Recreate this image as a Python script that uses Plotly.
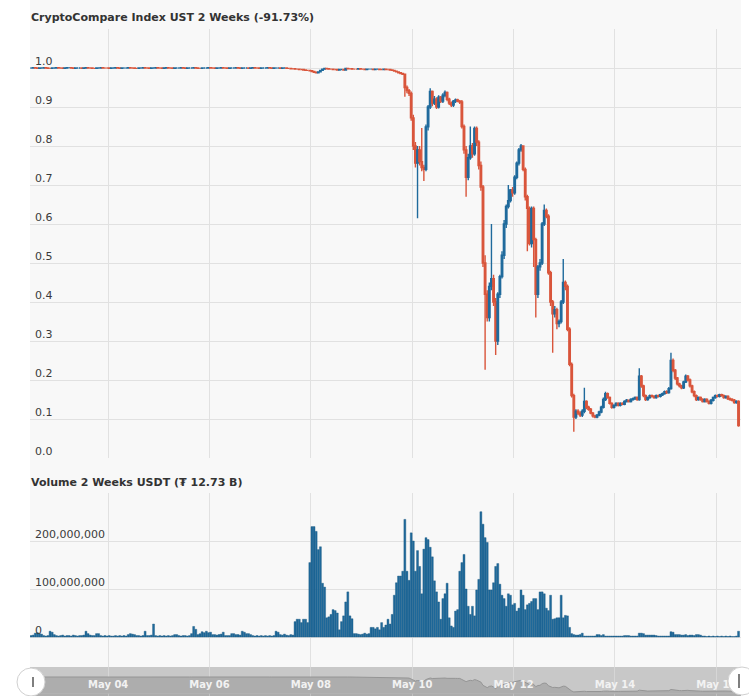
import pandas as pd
import plotly.graph_objects as go

# ---------------- data (hourly candles, 2 weeks) ----------------
start_time = "2022-05-02 11:30"

closes = [
    1.000,1.001,1.000,0.999,1.000,1.000,1.001,1.000,0.999,0.999,1.000,1.000,
    1.001,1.000,1.000,0.999,1.000,1.001,1.001,1.000,0.999,1.000,1.000,1.000,
    0.999,1.000,1.001,1.000,1.000,0.999,0.999,1.000,1.000,1.001,1.000,1.000,
    1.000,0.999,1.000,1.000,1.001,1.000,0.999,1.000,1.000,1.000,1.001,1.000,
    1.000,0.999,0.999,1.000,1.000,1.001,1.000,1.000,0.999,1.000,1.000,1.001,
    1.000,1.000,0.999,1.000,1.001,1.000,1.000,0.999,1.000,1.000,1.000,1.001,
    1.000,0.999,1.000,1.000,1.000,1.001,1.000,0.999,0.999,1.000,1.000,1.000,
    1.001,1.000,1.000,0.999,1.000,1.000,1.001,1.000,1.000,0.999,1.000,1.000,
    1.000,1.001,1.000,0.999,1.000,1.000,1.000,0.999,1.000,1.001,1.000,1.000,
    0.999,1.000,1.000,1.000,1.001,1.000,0.999,1.000,1.000,1.000,0.999,1.000,
    1.000,0.999,0.999,0.998,0.998,0.997,0.997,0.996,0.996,0.995,0.994,0.994,
    0.993,0.991,0.989,0.988,0.990,0.994,0.997,0.999,0.998,0.997,0.997,0.996,
    0.996,0.995,0.996,0.996,0.995,0.999,0.998,0.998,0.997,0.997,0.997,0.998,
    0.997,0.997,0.996,0.997,0.997,0.997,0.996,0.997,0.997,0.996,0.996,0.997,
    0.996,0.996,0.995,0.994,0.992,0.990,0.988,0.986,0.984,0.950,0.942,0.935,
    0.872,0.800,0.756,0.790,0.760,0.745,0.740,0.849,0.900,0.940,0.910,0.920,
    0.900,0.925,0.915,0.930,0.937,0.920,0.910,0.905,0.915,0.918,0.915,0.913,
    0.850,0.790,0.720,0.770,0.800,0.780,0.845,0.810,0.750,0.695,0.500,0.420,
    0.360,0.440,0.460,0.400,0.300,0.420,0.465,0.520,0.600,0.645,0.660,0.687,
    0.680,0.720,0.756,0.790,0.800,0.740,0.670,0.640,0.550,0.640,0.560,0.420,
    0.490,0.500,0.600,0.635,0.620,0.475,0.400,0.370,0.380,0.345,0.350,0.400,
    0.450,0.440,0.330,0.240,0.160,0.105,0.120,0.115,0.110,0.120,0.145,0.130,
    0.125,0.115,0.108,0.105,0.110,0.118,0.130,0.150,0.165,0.155,0.140,0.130,
    0.135,0.140,0.135,0.140,0.138,0.145,0.148,0.145,0.150,0.152,0.155,0.150,
    0.210,0.185,0.160,0.150,0.155,0.160,0.158,0.155,0.160,0.158,0.162,0.165,
    0.170,0.168,0.178,0.250,0.225,0.205,0.190,0.185,0.180,0.195,0.210,0.200,
    0.185,0.170,0.160,0.150,0.155,0.150,0.145,0.150,0.145,0.140,0.148,0.155,
    0.160,0.158,0.162,0.160,0.155,0.158,0.152,0.150,0.148,0.142,0.145,0.083,
]

opens = [
    1.000,1.000,1.001,1.000,0.999,1.000,1.000,1.001,1.000,0.999,0.999,1.000,
    1.000,1.001,1.000,1.000,0.999,1.000,1.001,1.001,1.000,0.999,1.000,1.000,
    1.000,0.999,1.000,1.001,1.000,1.000,0.999,0.999,1.000,1.000,1.001,1.000,
    1.000,1.000,0.999,1.000,1.000,1.001,1.000,0.999,1.000,1.000,1.000,1.001,
    1.000,1.000,0.999,0.999,1.000,1.000,1.001,1.000,1.000,0.999,1.000,1.000,
    1.001,1.000,1.000,0.999,1.000,1.001,1.000,1.000,0.999,1.000,1.000,1.000,
    1.001,1.000,0.999,1.000,1.000,1.000,1.001,1.000,0.999,0.999,1.000,1.000,
    1.000,1.001,1.000,1.000,0.999,1.000,1.000,1.001,1.000,1.000,0.999,1.000,
    1.000,1.000,1.001,1.000,0.999,1.000,1.000,1.000,0.999,1.000,1.001,1.000,
    1.000,0.999,1.000,1.000,1.000,1.001,1.000,0.999,1.000,1.000,1.000,0.999,
    1.000,1.000,0.999,0.999,0.998,0.998,0.997,0.997,0.996,0.996,0.995,0.994,
    0.994,0.993,0.991,0.989,0.988,0.990,0.994,0.997,0.999,0.998,0.997,0.997,
    0.996,0.996,0.995,0.996,0.996,0.995,0.999,0.998,0.998,0.997,0.997,0.997,
    0.998,0.997,0.997,0.996,0.997,0.997,0.997,0.996,0.997,0.997,0.996,0.996,
    0.997,0.996,0.996,0.995,0.994,0.992,0.990,0.988,0.986,0.984,0.950,0.942,
    0.935,0.872,0.800,0.756,0.790,0.760,0.745,0.740,0.849,0.900,0.940,0.910,
    0.920,0.900,0.925,0.915,0.930,0.937,0.920,0.910,0.905,0.915,0.918,0.915,
    0.913,0.850,0.790,0.720,0.770,0.800,0.780,0.845,0.810,0.750,0.695,0.500,
    0.420,0.360,0.440,0.460,0.400,0.300,0.420,0.465,0.520,0.600,0.645,0.660,
    0.687,0.680,0.720,0.756,0.790,0.800,0.740,0.670,0.640,0.550,0.640,0.560,
    0.420,0.490,0.500,0.600,0.635,0.620,0.475,0.400,0.370,0.380,0.345,0.350,
    0.400,0.450,0.440,0.330,0.240,0.160,0.105,0.120,0.115,0.110,0.120,0.145,
    0.130,0.125,0.115,0.108,0.105,0.110,0.118,0.130,0.150,0.165,0.155,0.140,
    0.130,0.135,0.140,0.135,0.140,0.138,0.145,0.148,0.145,0.150,0.152,0.155,
    0.150,0.210,0.185,0.160,0.150,0.155,0.160,0.158,0.155,0.160,0.158,0.162,
    0.165,0.170,0.168,0.178,0.250,0.225,0.205,0.190,0.185,0.180,0.195,0.210,
    0.200,0.185,0.170,0.160,0.150,0.155,0.150,0.145,0.150,0.145,0.140,0.148,
    0.155,0.160,0.158,0.162,0.160,0.155,0.158,0.152,0.150,0.148,0.142,0.145,
]

highs = [
    1.001,1.002,1.002,1.001,1.001,1.001,1.002,1.002,1.001,1.000,1.001,1.001,
    1.002,1.002,1.001,1.001,1.001,1.002,1.002,1.002,1.001,1.001,1.001,1.001,
    1.001,1.001,1.002,1.002,1.001,1.001,1.000,1.001,1.001,1.002,1.002,1.001,
    1.001,1.001,1.001,1.001,1.002,1.002,1.001,1.001,1.001,1.001,1.002,1.002,
    1.001,1.001,1.000,1.001,1.001,1.002,1.002,1.001,1.001,1.001,1.001,1.002,
    1.002,1.001,1.001,1.001,1.002,1.002,1.001,1.001,1.001,1.001,1.001,1.002,
    1.002,1.001,1.001,1.001,1.001,1.002,1.002,1.001,1.000,1.001,1.001,1.001,
    1.002,1.002,1.001,1.001,1.001,1.001,1.002,1.002,1.001,1.001,1.001,1.001,
    1.001,1.002,1.002,1.001,1.001,1.001,1.001,1.001,1.001,1.002,1.002,1.001,
    1.001,1.001,1.001,1.001,1.002,1.002,1.001,1.001,1.001,1.001,1.001,1.001,
    1.001,1.001,1.000,1.000,0.999,0.999,0.998,0.998,0.997,0.997,0.996,0.995,
    0.995,0.994,0.992,0.990,0.991,0.995,0.998,1.000,1.000,0.999,0.998,0.998,
    0.997,0.997,0.997,0.997,0.997,1.000,1.000,0.999,0.999,0.998,0.998,0.999,
    0.999,0.998,0.998,0.998,0.998,0.998,0.998,0.998,0.998,0.998,0.997,0.998,
    0.998,0.997,0.997,0.996,0.995,0.993,0.991,0.989,0.987,0.985,0.955,0.946,
    0.940,0.880,0.810,0.800,0.800,0.846,0.752,0.855,0.905,0.948,0.942,0.928,
    0.925,0.930,0.928,0.935,0.942,0.940,0.924,0.914,0.918,0.922,0.921,0.918,
    0.918,0.855,0.800,0.780,0.850,0.808,0.850,0.850,0.815,0.760,0.700,0.520,
    0.430,0.450,0.600,0.470,0.410,0.425,0.470,0.530,0.610,0.650,0.700,0.690,
    0.695,0.725,0.760,0.795,0.805,0.802,0.745,0.675,0.645,0.645,0.645,0.565,
    0.495,0.510,0.605,0.650,0.640,0.625,0.480,0.405,0.390,0.385,0.355,0.405,
    0.510,0.455,0.445,0.335,0.245,0.165,0.125,0.125,0.120,0.125,0.180,0.148,
    0.134,0.128,0.118,0.111,0.113,0.121,0.134,0.155,0.170,0.168,0.158,0.143,
    0.138,0.143,0.143,0.143,0.143,0.148,0.151,0.150,0.153,0.155,0.158,0.158,
    0.230,0.213,0.188,0.163,0.158,0.163,0.163,0.161,0.163,0.163,0.165,0.168,
    0.173,0.174,0.182,0.270,0.255,0.228,0.208,0.193,0.188,0.198,0.214,0.213,
    0.204,0.188,0.173,0.163,0.158,0.158,0.153,0.153,0.153,0.148,0.151,0.158,
    0.163,0.163,0.165,0.165,0.163,0.161,0.161,0.155,0.153,0.151,0.148,0.148,
]

lows = [
    0.999,0.999,0.999,0.998,0.998,0.999,0.999,0.999,0.998,0.998,0.998,0.999,
    0.999,0.999,0.999,0.998,0.998,0.999,1.000,0.999,0.998,0.998,0.999,0.999,
    0.998,0.998,0.999,0.999,0.999,0.998,0.998,0.998,0.999,0.999,0.999,0.999,
    0.999,0.998,0.998,0.999,0.999,0.999,0.998,0.998,0.999,0.999,0.999,0.999,
    0.999,0.998,0.998,0.998,0.999,0.999,0.999,0.999,0.998,0.998,0.999,0.999,
    0.999,0.999,0.998,0.998,0.999,0.999,0.999,0.998,0.998,0.999,0.999,0.999,
    0.999,0.998,0.998,0.999,0.999,0.999,0.999,0.998,0.998,0.998,0.999,0.999,
    0.999,0.999,0.999,0.998,0.998,0.999,0.999,0.999,0.999,0.998,0.998,0.999,
    0.999,0.999,0.999,0.998,0.998,0.999,0.999,0.998,0.998,0.999,0.999,0.999,
    0.998,0.998,0.999,0.999,0.999,0.999,0.998,0.998,0.999,0.999,0.998,0.998,
    0.999,0.998,0.998,0.997,0.997,0.996,0.996,0.995,0.995,0.994,0.993,0.993,
    0.992,0.990,0.988,0.986,0.987,0.989,0.993,0.996,0.997,0.996,0.996,0.995,
    0.995,0.994,0.994,0.995,0.994,0.994,0.997,0.997,0.996,0.996,0.996,0.996,
    0.996,0.996,0.995,0.995,0.996,0.996,0.995,0.995,0.996,0.995,0.995,0.995,
    0.995,0.995,0.994,0.993,0.991,0.989,0.987,0.985,0.983,0.926,0.935,0.928,
    0.865,0.790,0.745,0.615,0.750,0.735,0.710,0.735,0.840,0.895,0.902,0.905,
    0.895,0.896,0.910,0.910,0.925,0.915,0.905,0.900,0.900,0.910,0.912,0.908,
    0.845,0.780,0.670,0.712,0.765,0.770,0.775,0.800,0.740,0.685,0.490,0.226,
    0.350,0.350,0.430,0.390,0.264,0.290,0.410,0.460,0.510,0.590,0.640,0.655,
    0.670,0.675,0.715,0.750,0.785,0.735,0.660,0.530,0.545,0.540,0.490,0.360,
    0.410,0.480,0.495,0.595,0.615,0.470,0.390,0.270,0.360,0.330,0.335,0.345,
    0.395,0.430,0.325,0.235,0.155,0.067,0.100,0.110,0.105,0.105,0.115,0.125,
    0.121,0.112,0.104,0.102,0.102,0.107,0.115,0.127,0.146,0.152,0.137,0.126,
    0.127,0.132,0.132,0.132,0.135,0.135,0.142,0.142,0.142,0.147,0.149,0.147,
    0.147,0.180,0.156,0.146,0.147,0.152,0.155,0.152,0.152,0.155,0.155,0.159,
    0.162,0.164,0.165,0.175,0.220,0.200,0.186,0.181,0.176,0.177,0.192,0.196,
    0.181,0.166,0.156,0.146,0.147,0.147,0.142,0.142,0.142,0.137,0.137,0.145,
    0.152,0.155,0.155,0.157,0.152,0.152,0.149,0.147,0.145,0.139,0.139,0.080,
]

# hourly volume in millions of USDT
volumes_musdt = [
    3,4,8,9,7,6,3,2,3,12,10,5,
    3,2,3,4,2,3,3,2,4,3,2,3,
    3,4,12,7,4,3,3,7,7,3,2,3,
    2,3,2,2,3,2,3,2,3,2,5,7,
    6,5,3,3,2,3,12,3,3,4,27,3,
    2,3,2,3,2,3,2,3,5,5,3,2,
    3,3,2,3,7,22,16,5,7,11,9,12,
    9,10,5,5,4,5,6,10,3,3,3,7,
    7,5,5,4,12,10,7,7,5,3,2,3,
    2,3,2,3,2,3,2,3,12,10,5,4,
    6,4,3,5,4,32,37,37,30,37,37,30,
    155,230,230,220,182,188,112,104,40,42,47,57,
    55,50,15,32,44,73,94,44,38,7,7,6,
    5,6,8,6,7,20,20,17,20,15,30,20,
    25,37,27,47,87,113,127,127,137,245,137,118,
    217,200,137,180,147,90,183,207,203,187,167,117,
    94,73,37,80,90,112,40,23,20,54,57,137,
    155,172,100,64,47,64,44,98,120,261,235,207,
    197,98,98,113,147,153,110,87,80,64,90,87,
    67,70,54,60,98,87,57,67,70,74,80,80,
    57,94,94,90,60,55,87,37,38,40,40,87,
    40,45,44,20,7,5,4,4,5,8,2,2,
    2,2,2,2,5,5,3,5,2,2,2,2,
    2,2,2,2,2,3,3,3,2,2,2,2,
    8,8,7,4,4,4,4,4,3,2,2,2,
    2,2,2,11,10,5,5,5,4,4,5,3,
    4,4,3,5,5,4,2,2,1,2,1,2,
    1,2,1,2,1,2,1,2,1,1,2,12,
]

price_ticks = [0.0, 0.1, 0.2, 0.3, 0.4, 0.5, 0.6, 0.7, 0.8, 0.9, 1.0, 1.1]
price_labels = ["0.0", "0.1", "0.2", "0.3", "0.4", "0.5", "0.6", "0.7", "0.8", "0.9", "1.0", ""]
vol_ticks = [0, 100_000_000, 200_000_000, 300_000_000]
vol_labels = ["0", "100,000,000", "200,000,000", ""]
date_ticks = ["2022-05-04", "2022-05-06", "2022-05-08", "2022-05-10",
              "2022-05-12", "2022-05-14", "2022-05-16"]

title_price = "CryptoCompare Index UST 2 Weeks (-91.73%)"
title_volume = "Volume 2 Weeks USDT (₮ 12.73 B)"

# ---------------- derived ----------------
n = len(closes)
assert len(opens) == n and len(highs) == n and len(lows) == n and len(volumes_musdt) == n
times = pd.date_range(start_time, periods=n, freq="h")
volumes = [v * 1_000_000 for v in volumes_musdt]

# ---------------- layout helpers ----------------
W, H = 749, 696
def px(x):
    return x / W
def py(y):
    return 1 - y / H

FONT = "DejaVu Sans"
UP = "#1f6a9c"
DOWN = "#d9553b"
GRID = "#e1e1e1"
X_LEFT, X_RIGHT = 30, 741
x_range = ["2022-05-02 11:00", "2022-05-16 11:40"]

fig = go.Figure()

fig.add_trace(go.Candlestick(
    x=times, open=opens, high=highs, low=lows, close=closes,
    increasing=dict(line=dict(color=UP, width=1.4), fillcolor=UP),
    decreasing=dict(line=dict(color=DOWN, width=1.4), fillcolor=DOWN),
    whiskerwidth=0, xaxis="x", yaxis="y", name="UST",
))

fig.add_trace(go.Bar(
    x=times, y=volumes, marker=dict(color=UP, line=dict(color="#17557f", width=0.4)),
    xaxis="x2", yaxis="y2", name="Volume",
))

fig.add_trace(go.Scatter(
    x=times, y=closes, mode="lines", line=dict(color="#959595", width=1),
    fill="tozeroy", fillcolor="#adadad", xaxis="x3", yaxis="y3", hoverinfo="skip",
))

common_x = dict(range=x_range, domain=[px(X_LEFT), px(X_RIGHT)], type="date",
                tickmode="array", tickvals=date_ticks, showgrid=True, gridcolor=GRID,
                gridwidth=1, zeroline=False, showline=False, ticks="")

fig.update_layout(
    width=W, height=H,
    margin=dict(l=0, r=0, t=0, b=0),
    paper_bgcolor="white", plot_bgcolor="rgba(0,0,0,0)",
    showlegend=False, boxgap=0.0, bargap=0.08,
    font=dict(family=FONT, size=11, color="#333333"),
    xaxis=dict(common_x, anchor="y", showticklabels=False, rangeslider=dict(visible=False)),
    xaxis2=dict(common_x, anchor="y2", showticklabels=False, matches="x"),
    xaxis3=dict(common_x, anchor="y3", showticklabels=True, matches="x",
                tickformat="%b %d", ticklabelposition="inside", ticklabelstandoff=3,
                gridcolor="rgba(255,255,255,0.25)",
                tickfont=dict(family=FONT, size=10, color="#f2f2f2", weight="bold")),
    yaxis=dict(domain=[py(458), py(29)], range=[0, 1.1], anchor="x",
               tickmode="array", tickvals=price_ticks, ticktext=price_labels,
               ticklabelposition="inside", ticklabelshift=-7, ticklabelstandoff=2,
               showgrid=True, gridcolor=GRID, zeroline=False, showline=False, ticks="",
               tickfont=dict(family=FONT, size=11, color="#3a3a3a")),
    yaxis2=dict(domain=[py(667), py(493)], range=[-62.5e6, 300e6], anchor="x2",
                tickmode="array", tickvals=vol_ticks, ticktext=vol_labels,
                ticklabelposition="inside", ticklabelshift=-7, ticklabelstandoff=2,
                showgrid=True, gridcolor=GRID, zeroline=False, showline=False, ticks="",
                tickfont=dict(family=FONT, size=11, color="#3a3a3a")),
    yaxis3=dict(domain=[0, py(667)], range=[-0.14, 1.6], anchor="x3",
                visible=False, fixedrange=True),
)

shapes = [
    # light panel background
    dict(type="rect", xref="paper", yref="paper", x0=px(X_LEFT), x1=px(X_RIGHT),
         y0=py(667), y1=1, fillcolor="#f8f8f8", line=dict(width=0), layer="below"),
    # navigator band
    dict(type="rect", xref="paper", yref="paper", x0=px(X_LEFT), x1=px(X_RIGHT),
         y0=0, y1=py(667), fillcolor="#c8c8c8", line=dict(width=0), layer="below"),
    dict(type="rect", xref="x3 domain", yref="y3", x0=0, x1=1, y0=-0.14, y1=0,
         fillcolor="#adadad", line=dict(width=0), layer="below"),
    # navigator handles
    dict(type="circle", xref="paper", yref="paper", x0=px(17), x1=px(45),
         y0=py(696), y1=py(668), fillcolor="white", line=dict(color="#d0d0d0", width=1),
         layer="above"),
    dict(type="line", xref="paper", yref="paper", x0=px(33), x1=px(33),
         y0=py(687), y1=py(677), line=dict(color="#555555", width=1.5), layer="above"),
    dict(type="circle", xref="paper", yref="paper", x0=px(728), x1=px(756),
         y0=py(695), y1=py(667), fillcolor="white", line=dict(color="#d0d0d0", width=1),
         layer="above"),
    dict(type="line", xref="paper", yref="paper", x0=px(739), x1=px(739),
         y0=py(688), y1=py(674), line=dict(color="#555555", width=1.5), layer="above"),
]
fig.update_layout(shapes=shapes)

fig.add_annotation(text="<b>" + title_price + "</b>", xref="paper", yref="paper",
                   x=px(29), y=py(17), xanchor="left", yanchor="middle", showarrow=False,
                   font=dict(family=FONT, size=11, color="#333333"))
fig.add_annotation(text="<b>" + title_volume + "</b>", xref="paper", yref="paper",
                   x=px(29), y=py(482), xanchor="left", yanchor="middle", showarrow=False,
                   font=dict(family=FONT, size=11, color="#333333"))

fig.write_html("out.html",
               config={"displayModeBar": False},
               post_script="document.body.style.margin='0';"
                           "document.body.style.overflow='hidden';")
